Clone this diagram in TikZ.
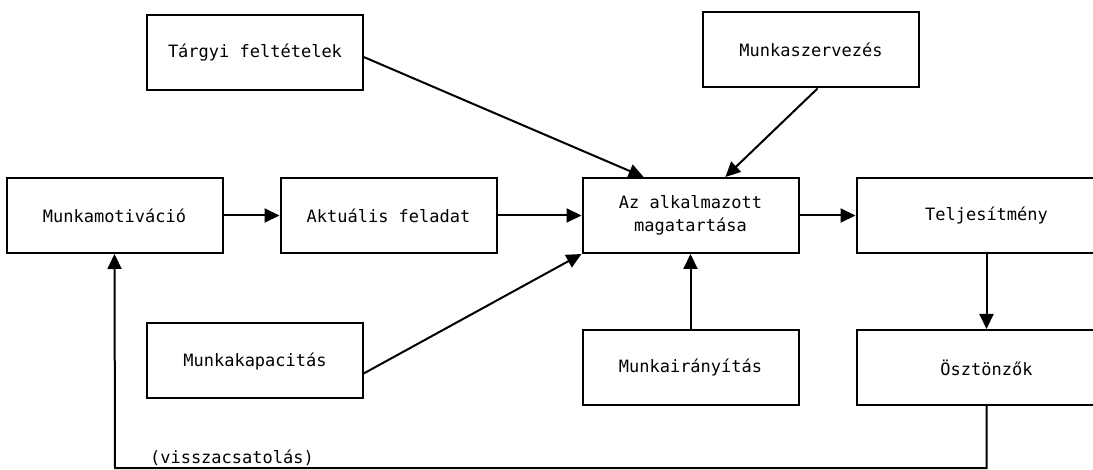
\documentclass[tikz,border=0pt]{standalone}
\usepackage{fontspec}
\setmainfont{DejaVu Sans Mono}
\usetikzlibrary{arrows.meta,positioning,calc}

\begin{document}
\begin{tikzpicture}[
    x=0.5pt,y=-0.5pt,
    node distance=37.5pt and 28pt,
    font=\fontsize{8.5}{11.5}\selectfont,
    block/.style={draw,line width=1pt,align=center,
        minimum width=108pt,minimum height=37.5pt,inner sep=2pt},
    wide/.style={block,minimum width=130pt},
    arrow/.style={-{Triangle[length=7.5pt,width=7pt]},line width=1pt}
]
\clip (0,0) rectangle (1093,470);
\node[block] (motiv) at (114.5,215.5) {Munkamotiváció};
\node[block, right=of motiv] (feladat) {Aktuális feladat};
\node[block, right=42pt of feladat] (magatartas) {Az alkalmazott\\magatartása};
\node[wide, right=of magatartas] (teljes) {Teljesítmény};
\node[wide, below=of teljes] (osztonzok) {Ösztönzők};
\node[block, below=of magatartas] (iranyitas) {Munkairányítás};
\node[block] (targyi) at (255,52.5) {Tárgyi feltételek};
\node[block] (szervezes) at (811,50) {Munkaszervezés};
\node[block] (kapacitas) at (255,361) {Munkakapacitás};
\coordinate (fbk) at (115,468);
\node[anchor=base west] (fbklabel) at (143,463) {(visszacsatolás)};
\draw[arrow] (motiv) -- (feladat);
\draw[arrow] (feladat) -- (magatartas);
\draw[arrow] (magatartas) -- (teljes);
\draw[arrow] (teljes) -- (osztonzok);
\draw[arrow] (iranyitas) -- (magatartas);
\draw[arrow] ($(targyi.north east)!0.56!(targyi.south east)$)
    -- ($(magatartas.north west)!0.285!(magatartas.north east)$);
\draw[arrow] ($(szervezes.south west)!0.53!(szervezes.south east)$)
    -- ($(magatartas.north west)!0.66!(magatartas.north east)$);
\draw[arrow] ($(kapacitas.north east)!0.66!(kapacitas.south east)$)
    -- (magatartas.south west);
\draw[arrow] (osztonzok.south) |- (fbk) -- (motiv.south);
\end{tikzpicture}
\end{document}
